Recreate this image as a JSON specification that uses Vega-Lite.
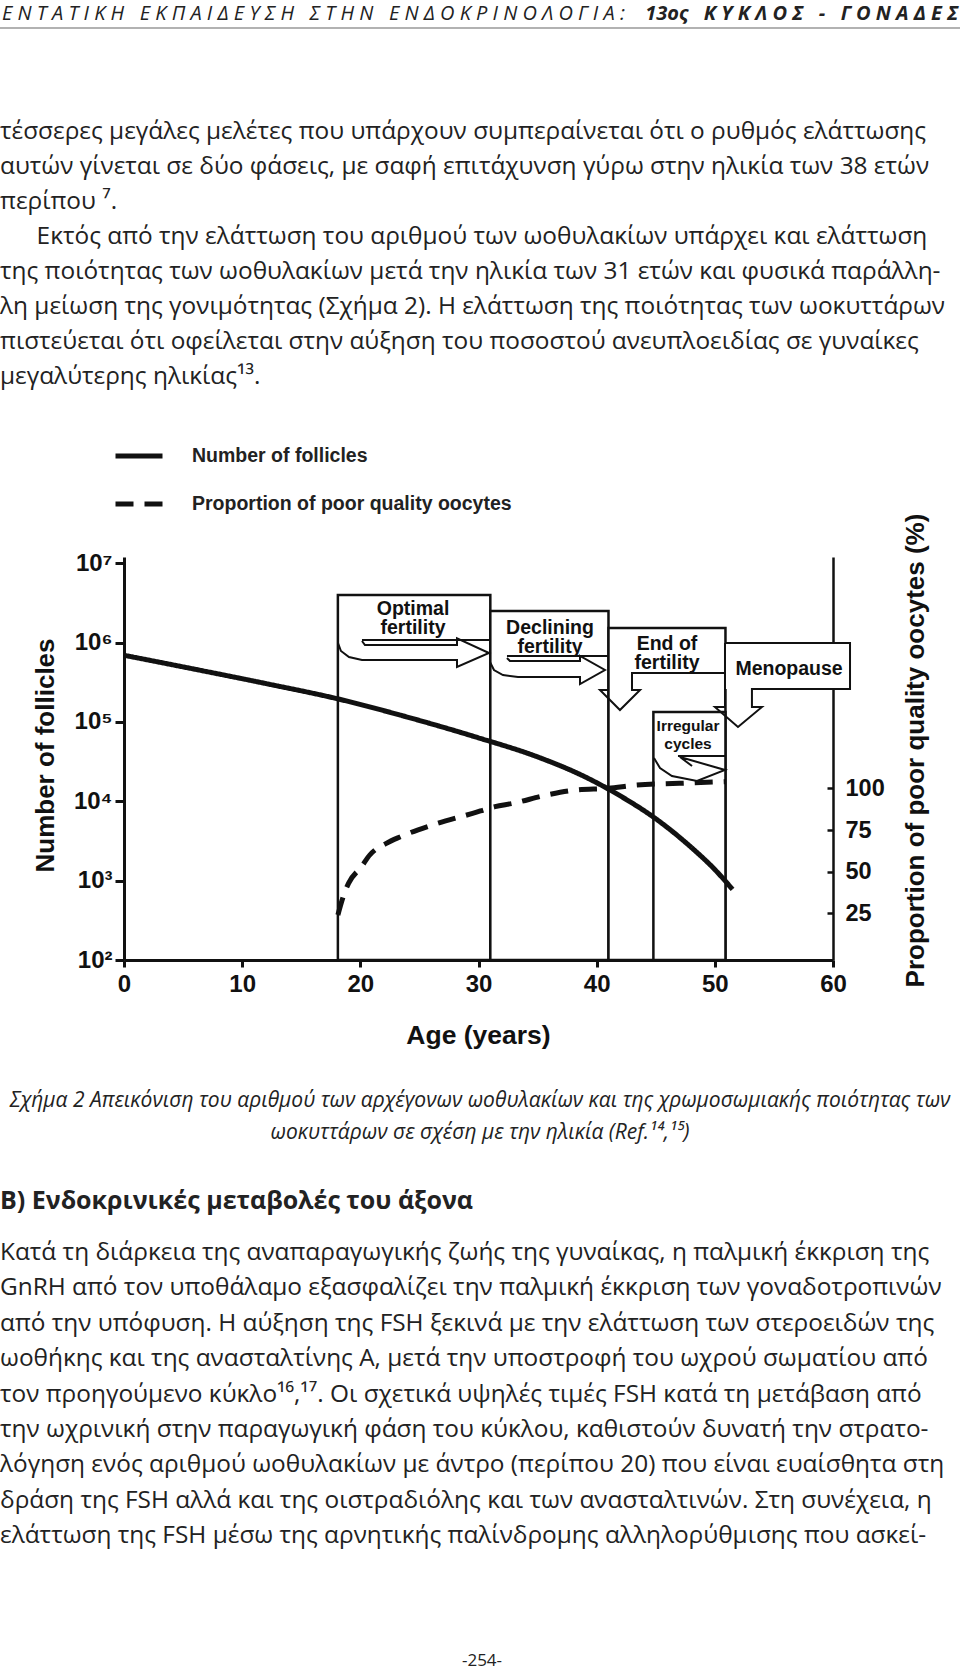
{
"$schema": "https://vega.github.io/schema/vega-lite/v6.json",
"width": 709,
"height": 403,
"autosize": {"type": "none"},
"padding": {"left": 124, "top": 557, "right": 127, "bottom": 712},
"background": "white",
"config": {"view": {"stroke": null}},
"datasets": {
  "page": [
    {"block": "hdrL", "line": 0, "text": "Ε Ν Τ Α Τ Ι Κ Η\u00a0\u00a0 Ε Κ Π Α Ι Δ Ε Υ Σ Η\u00a0\u00a0 Σ Τ Η Ν\u00a0\u00a0 Ε Ν Δ Ο Κ Ρ Ι Ν Ο Λ Ο Γ Ι Α :"},
    {"block": "hdrR", "line": 0, "text": "13ος\u00a0\u00a0 Κ Υ Κ Λ Ο Σ\u00a0\u00a0 -\u00a0\u00a0 Γ Ο Ν Α Δ Ε Σ"},
    {"block": "p1", "line": 0, "text": "τέσσερες μεγάλες μελέτες που υπάρχουν συμπεραίνεται ότι ο ρυθμός ελάττωσης"},
    {"block": "p1", "line": 1, "text": "αυτών γίνεται σε δύο φάσεις, με σαφή επιτάχυνση γύρω στην ηλικία των 38 ετών"},
    {"block": "p1", "line": 2, "text": "περίπου ⁷."},
    {"block": "p1", "line": 3, "text": "\u200b\u2002\u2002\u2002Εκτός από την ελάττωση του αριθμού των ωοθυλακίων υπάρχει και ελάττωση"},
    {"block": "p1", "line": 4, "text": "της ποιότητας των ωοθυλακίων μετά την ηλικία των 31 ετών και φυσικά παράλλη-"},
    {"block": "p1", "line": 5, "text": "λη μείωση της γονιμότητας (Σχήμα 2). Η ελάττωση της ποιότητας των ωοκυττάρων"},
    {"block": "p1", "line": 6, "text": "πιστεύεται ότι οφείλεται στην αύξηση του ποσοστού ανευπλοειδίας σε γυναίκες"},
    {"block": "p1", "line": 7, "text": "μεγαλύτερης ηλικίας¹³."},
    {"block": "cap", "line": 0, "text": "Σχήμα 2 Απεικόνιση του αριθμού των αρχέγονων ωοθυλακίων και της χρωμοσωμιακής ποιότητας των"},
    {"block": "cap", "line": 1, "text": "ωοκυττάρων σε σχέση με την ηλικία (Ref.¹⁴,¹⁵)"},
    {"block": "head", "line": 0, "text": "Β) Ενδοκρινικές μεταβολές του άξονα"},
    {"block": "p2", "line": 0, "text": "Κατά τη διάρκεια της αναπαραγωγικής ζωής της γυναίκας, η παλμική έκκριση της"},
    {"block": "p2", "line": 1, "text": "GnRH από τον υποθάλαμο εξασφαλίζει την παλμική έκκριση των γοναδοτροπινών"},
    {"block": "p2", "line": 2, "text": "από την υπόφυση. Η αύξηση της FSH ξεκινά με την ελάττωση των στεροειδών της"},
    {"block": "p2", "line": 3, "text": "ωοθήκης και της ανασταλτίνης Α, μετά την υποστροφή του ωχρού σωματίου από"},
    {"block": "p2", "line": 4, "text": "τον προηγούμενο κύκλο¹⁶,¹⁷. Οι σχετικά υψηλές τιμές FSH κατά τη μετάβαση από"},
    {"block": "p2", "line": 5, "text": "την ωχρινική στην παραγωγική φάση του κύκλου, καθιστούν δυνατή την στρατο-"},
    {"block": "p2", "line": 6, "text": "λόγηση ενός αριθμού ωοθυλακίων με άντρο (περίπου 20) που είναι ευαίσθητα στη"},
    {"block": "p2", "line": 7, "text": "δράση της FSH αλλά και της οιστραδιόλης και των ανασταλτινών. Στη συνέχεια, η"},
    {"block": "p2", "line": 8, "text": "ελάττωση της FSH μέσω της αρνητικής παλίνδρομης αλληλορύθμισης που ασκεί-"},
    {"block": "pg", "line": 0, "text": "-254-"}
  ],
  "follicles": [
    {"series": "Number of follicles", "age": 0, "count": 693000},
    {"series": "Number of follicles", "age": 6, "count": 462000},
    {"series": "Number of follicles", "age": 12, "count": 305000},
    {"series": "Number of follicles", "age": 18, "count": 197000},
    {"series": "Number of follicles", "age": 24, "count": 115000},
    {"series": "Number of follicles", "age": 30, "count": 63100},
    {"series": "Number of follicles", "age": 35, "count": 36300},
    {"series": "Number of follicles", "age": 39, "count": 20400},
    {"series": "Number of follicles", "age": 42, "count": 11700},
    {"series": "Number of follicles", "age": 45, "count": 6030},
    {"series": "Number of follicles", "age": 48, "count": 2630},
    {"series": "Number of follicles", "age": 50, "count": 1380},
    {"series": "Number of follicles", "age": 51.5, "count": 776}
  ],
  "poor": [
    {"series": "Proportion of poor quality oocytes", "age": 18.1, "pct": 24},
    {"series": "Proportion of poor quality oocytes", "age": 18.6, "pct": 36},
    {"series": "Proportion of poor quality oocytes", "age": 19.0, "pct": 43},
    {"series": "Proportion of poor quality oocytes", "age": 20.1, "pct": 53},
    {"series": "Proportion of poor quality oocytes", "age": 20.8, "pct": 60},
    {"series": "Proportion of poor quality oocytes", "age": 22.2, "pct": 67},
    {"series": "Proportion of poor quality oocytes", "age": 23.4, "pct": 71},
    {"series": "Proportion of poor quality oocytes", "age": 26.1, "pct": 78},
    {"series": "Proportion of poor quality oocytes", "age": 29.5, "pct": 85},
    {"series": "Proportion of poor quality oocytes", "age": 31.4, "pct": 89},
    {"series": "Proportion of poor quality oocytes", "age": 32.9, "pct": 91},
    {"series": "Proportion of poor quality oocytes", "age": 35.8, "pct": 96},
    {"series": "Proportion of poor quality oocytes", "age": 38.3, "pct": 99},
    {"series": "Proportion of poor quality oocytes", "age": 41, "pct": 100},
    {"series": "Proportion of poor quality oocytes", "age": 43.4, "pct": 102},
    {"series": "Proportion of poor quality oocytes", "age": 47, "pct": 103},
    {"series": "Proportion of poor quality oocytes", "age": 50.9, "pct": 104}
  ],
  "stages": [
    {"stage": "Optimal fertility", "kind": "full", "start": 18.1, "end": 31, "top": 216, "bottom": -3},
    {"stage": "Declining fertility", "kind": "full", "start": 31, "end": 41, "top": 206.4, "bottom": -3},
    {"stage": "End of fertility", "kind": "full", "start": 41, "end": 50.9, "top": 196.2, "bottom": -3},
    {"stage": "Irregular cycles", "kind": "full", "start": 44.8, "end": 50.9, "top": 145.8, "bottom": -3},
    {"stage": "Menopause", "kind": "box", "start": 50.9, "end": 61.4, "top": 187.2, "bottom": 159.6}
  ],
  "shapes": [
    {"id": "opt_top", "o": 0, "a": 20.14, "p": 189},
    {"id": "opt_top", "o": 1, "a": 30.97, "p": 189},
    {"id": "opt_arrow", "o": 0, "a": 18.11, "p": 187.2},
    {"id": "opt_arrow", "o": 1, "a": 18.36, "p": 182.4},
    {"id": "opt_arrow", "o": 2, "a": 19.04, "p": 178.8},
    {"id": "opt_arrow", "o": 3, "a": 20.14, "p": 177},
    {"id": "opt_arrow", "o": 4, "a": 28.18, "p": 177},
    {"id": "opt_arrow", "o": 5, "a": 28.18, "p": 172.8},
    {"id": "opt_arrow", "o": 6, "a": 30.89, "p": 181.2},
    {"id": "opt_arrow", "o": 7, "a": 28.18, "p": 190},
    {"id": "opt_arrow", "o": 8, "a": 28.18, "p": 186},
    {"id": "opt_arrow", "o": 9, "a": 20.39, "p": 186},
    {"id": "opt_arrow", "o": 10, "a": 20.14, "p": 188.4},
    {"id": "dec_top", "o": 0, "a": 32.41, "p": 179.4},
    {"id": "dec_top", "o": 1, "a": 40.96, "p": 179.4},
    {"id": "dec_arrow", "o": 0, "a": 30.97, "p": 175.8},
    {"id": "dec_arrow", "o": 1, "a": 31.31, "p": 171},
    {"id": "dec_arrow", "o": 2, "a": 32.07, "p": 168},
    {"id": "dec_arrow", "o": 3, "a": 33.34, "p": 166.8},
    {"id": "dec_arrow", "o": 4, "a": 38.59, "p": 166.8},
    {"id": "dec_arrow", "o": 5, "a": 38.59, "p": 162.6},
    {"id": "dec_arrow", "o": 6, "a": 40.7, "p": 171},
    {"id": "dec_arrow", "o": 7, "a": 38.59, "p": 179.4},
    {"id": "dec_arrow", "o": 8, "a": 38.59, "p": 176.4},
    {"id": "dec_arrow", "o": 9, "a": 32.66, "p": 176.4},
    {"id": "dec_arrow", "o": 10, "a": 32.41, "p": 178.2},
    {"id": "end_arrow", "o": 0, "a": 50.86, "p": 169.2},
    {"id": "end_arrow", "o": 1, "a": 42.99, "p": 169.2},
    {"id": "end_arrow", "o": 2, "a": 42.99, "p": 159},
    {"id": "end_arrow", "o": 3, "a": 43.67, "p": 159},
    {"id": "end_arrow", "o": 4, "a": 41.97, "p": 147},
    {"id": "end_arrow", "o": 5, "a": 40.28, "p": 159},
    {"id": "end_arrow", "o": 6, "a": 41.04, "p": 159},
    {"id": "meno", "o": 0, "a": 50.86, "p": 187.2},
    {"id": "meno", "o": 1, "a": 61.44, "p": 187.2},
    {"id": "meno", "o": 2, "a": 61.44, "p": 159.6},
    {"id": "meno", "o": 3, "a": 53.14, "p": 159.6},
    {"id": "meno", "o": 4, "a": 53.14, "p": 148.8},
    {"id": "meno", "o": 5, "a": 53.99, "p": 148.8},
    {"id": "meno", "o": 6, "a": 51.96, "p": 136.8},
    {"id": "meno", "o": 7, "a": 50.01, "p": 148.8},
    {"id": "meno", "o": 8, "a": 50.86, "p": 148.8},
    {"id": "meno", "o": 9, "a": 50.86, "p": 187.2},
    {"id": "irr_top", "o": 0, "a": 46.88, "p": 119.4},
    {"id": "irr_top", "o": 1, "a": 50.86, "p": 119.4},
    {"id": "irr_arrow", "o": 0, "a": 44.85, "p": 118.2},
    {"id": "irr_arrow", "o": 1, "a": 45.36, "p": 112.2},
    {"id": "irr_arrow", "o": 2, "a": 46.37, "p": 107.4},
    {"id": "irr_arrow", "o": 3, "a": 48.49, "p": 104.4},
    {"id": "irr_arrow", "o": 4, "a": 50.86, "p": 111},
    {"id": "irr_arrow", "o": 5, "a": 47.05, "p": 118.8},
    {"id": "irr_arrow", "o": 6, "a": 48.07, "p": 113.4}
  ],
  "labels": [
    {"grp": "main", "label": "Optimal\nfertility", "a": 24.46, "p": 207.6},
    {"grp": "main", "label": "Declining\nfertility", "a": 36.05, "p": 196.2},
    {"grp": "main", "label": "End of\nfertility", "a": 45.95, "p": 186.6},
    {"grp": "main", "label": "Menopause", "a": 56.28, "p": 171.6},
    {"grp": "small", "label": "Irregular\ncycles", "a": 47.73, "p": 137.4}
  ]
},
"resolve": {"scale": {"y": "independent"}},
"layer": [
  {
    "data": {"name": "page"},
    "transform": [{"filter": "datum.block == 'hdrL'"}],
    "mark": {"type": "text", "align": "left", "baseline": "middle", "font": "Open Sans", "fontStyle": "italic", "fontSize": 20, "color": "#222"},
    "encoding": {"x": {"value": -122}, "y": {"value": -543}, "text": {"field": "text"}}
  },
  {
    "data": {"name": "page"},
    "transform": [{"filter": "datum.block == 'hdrR'"}],
    "mark": {"type": "text", "align": "right", "baseline": "middle", "font": "Open Sans", "fontStyle": "italic", "fontWeight": "bold", "fontSize": 20, "color": "#222"},
    "encoding": {"x": {"value": 834}, "y": {"value": -543}, "text": {"field": "text"}}
  },
  {
    "data": {"values": [{}]},
    "mark": {"type": "rule", "color": "#999", "strokeWidth": 1.5},
    "encoding": {"x": {"value": -124}, "x2": {"value": 836}, "y": {"value": -529}}
  },
  {
    "data": {"name": "page"},
    "transform": [{"filter": "datum.block == 'p1'"}],
    "mark": {"type": "text", "align": "left", "baseline": "middle", "font": "Open Sans", "fontSize": 24.4, "color": "#222"},
    "encoding": {
      "x": {"value": -124},
      "y": {"field": "line", "type": "quantitative", "scale": {"domain": [0, 7], "range": [-425, -180], "nice": false, "zero": false}, "axis": null},
      "text": {"field": "text"}
    }
  },
  {
    "data": {"name": "page"},
    "transform": [{"filter": "datum.block == 'cap'"}],
    "mark": {"type": "text", "align": "center", "baseline": "middle", "font": "Open Sans", "fontStyle": "italic", "fontSize": 21, "color": "#222"},
    "encoding": {
      "x": {"value": 356},
      "y": {"field": "line", "type": "quantitative", "scale": {"domain": [0, 1], "range": [544, 576], "nice": false, "zero": false}, "axis": null},
      "text": {"field": "text"}
    }
  },
  {
    "data": {"name": "page"},
    "transform": [{"filter": "datum.block == 'head'"}],
    "mark": {"type": "text", "align": "left", "baseline": "middle", "font": "Open Sans", "fontWeight": "bold", "fontSize": 25, "color": "#222"},
    "encoding": {"x": {"value": -124}, "y": {"value": 644}, "text": {"field": "text"}}
  },
  {
    "data": {"name": "page"},
    "transform": [{"filter": "datum.block == 'p2'"}],
    "mark": {"type": "text", "align": "left", "baseline": "middle", "font": "Open Sans", "fontSize": 24.4, "color": "#222"},
    "encoding": {
      "x": {"value": -124},
      "y": {"field": "line", "type": "quantitative", "scale": {"domain": [0, 8], "range": [696, 979], "nice": false, "zero": false}, "axis": null},
      "text": {"field": "text"}
    }
  },
  {
    "data": {"name": "page"},
    "transform": [{"filter": "datum.block == 'pg'"}],
    "mark": {"type": "text", "align": "center", "baseline": "middle", "font": "Open Sans", "fontSize": 17, "color": "#222"},
    "encoding": {"x": {"value": 358}, "y": {"value": 1104}, "text": {"field": "text"}}
  },
  {
    "data": {"name": "stages"},
    "transform": [{"filter": "datum.kind == 'full'"}],
    "mark": {"type": "rect", "fill": "white", "stroke": "#111", "strokeWidth": 2.5},
    "encoding": {
      "x": {"field": "start", "type": "quantitative", "scale": {"domain": [0, 60], "nice": false, "zero": false}},
      "x2": {"field": "end"},
      "y": {"field": "top", "type": "quantitative", "scale": {"domain": [-3, 238.8], "nice": false, "zero": false}, "axis": null},
      "y2": {"field": "bottom"}
    }
  },
  {
    "data": {"name": "stages"},
    "transform": [{"filter": "datum.kind == 'box'"}],
    "mark": {"type": "rect", "fill": "white", "strokeWidth": 0},
    "encoding": {
      "x": {"field": "start", "type": "quantitative", "scale": {"domain": [0, 60], "nice": false, "zero": false}},
      "x2": {"field": "end"},
      "y": {"field": "top", "type": "quantitative", "scale": {"domain": [-3, 238.8], "nice": false, "zero": false}, "axis": null},
      "y2": {"field": "bottom"}
    }
  },
  {
    "data": {"name": "follicles"},
    "mark": {"type": "line", "color": "#111", "strokeWidth": 5, "interpolate": "monotone", "strokeCap": "butt"},
    "encoding": {
      "x": {"field": "age", "type": "quantitative", "scale": {"domain": [0, 60], "nice": false, "zero": false},
        "axis": {"orient": "bottom", "values": [0, 10, 20, 30, 40, 50, 60], "format": "d", "grid": false,
          "title": "Age (years)", "titleX": 354, "titleY": 75, "titleAlign": "center", "titleBaseline": "middle", "titleFont": "Liberation Sans", "titleFontSize": 26.5, "titleFontWeight": "bold", "titleColor": "#111",
          "labelFont": "Liberation Sans", "labelFontSize": 24, "labelFontWeight": "bold", "labelColor": "#111", "labelPadding": 5, "labelFlush": false, "labelOverlap": false,
          "tickSize": 7, "tickWidth": 3, "tickColor": "#111", "domainColor": "#111", "domainWidth": 3}},
      "y": {"field": "count", "type": "quantitative", "scale": {"type": "log", "domain": [100, 12000000], "nice": false},
        "axis": {"orient": "left", "values": [100, 1000, 10000, 100000, 1000000, 10000000], "grid": false,
          "labelExpr": "'10' + ['⁰','¹','²','³','⁴','⁵','⁶','⁷'][round(log(datum.value)/LN10)]",
          "title": "Number of follicles", "titleX": -79, "titleY": 198, "titleAngle": 270, "titleAlign": "center", "titleBaseline": "middle", "titleFont": "Liberation Sans", "titleFontSize": 26, "titleFontWeight": "bold", "titleColor": "#111",
          "labelFont": "Liberation Sans", "labelFontSize": 24, "labelFontWeight": "bold", "labelColor": "#111", "labelPadding": 3, "labelFlush": false, "labelOverlap": false,
          "tickSize": 9, "tickWidth": 3, "tickColor": "#111", "domainColor": "#111", "domainWidth": 3}},
      "strokeDash": {"field": "series", "type": "nominal",
        "scale": {"domain": ["Number of follicles", "Proportion of poor quality oocytes"], "range": [[1, 0], [18, 11]]},
        "legend": {"orient": "none", "legendX": -11, "legendY": -127, "title": null, "symbolType": "stroke", "symbolSize": 2209, "symbolStrokeWidth": 5, "symbolStrokeColor": "#111", "labelFont": "Liberation Sans", "labelFontWeight": "bold", "labelFontSize": 19.5, "labelColor": "#222", "labelOffset": 27, "rowPadding": 12, "labelLimit": 500}}
    }
  },
  {
    "data": {"name": "poor"},
    "mark": {"type": "line", "color": "#111", "strokeWidth": 5, "interpolate": "monotone", "strokeCap": "butt"},
    "encoding": {
      "x": {"field": "age", "type": "quantitative", "scale": {"domain": [0, 60], "nice": false, "zero": false}},
      "y": {"field": "pct", "type": "quantitative", "scale": {"domain": [-3, 238.8], "nice": false, "zero": false},
        "axis": {"orient": "right", "values": [25, 50, 75, 100], "grid": false,
          "title": "Proportion of poor quality oocytes (%)", "titleX": 82, "titleY": 193, "titleAngle": 270, "titleAlign": "center", "titleBaseline": "middle", "titleFont": "Liberation Sans", "titleFontSize": 26, "titleFontWeight": "bold", "titleColor": "#111",
          "labelFont": "Liberation Sans", "labelFontSize": 23.5, "labelFontWeight": "bold", "labelColor": "#111", "labelPadding": 18, "labelFlush": false, "labelOverlap": false,
          "tickSize": -6, "tickWidth": 2.5, "tickColor": "#111", "domainColor": "#111", "domainWidth": 2.5}},
      "strokeDash": {"field": "series", "type": "nominal",
        "scale": {"domain": ["Number of follicles", "Proportion of poor quality oocytes"], "range": [[1, 0], [18, 11]]},
        "legend": {"orient": "none", "legendX": -11, "legendY": -127, "title": null, "symbolType": "stroke", "symbolSize": 2209, "symbolStrokeWidth": 5, "symbolStrokeColor": "#111", "labelFont": "Liberation Sans", "labelFontWeight": "bold", "labelFontSize": 19.5, "labelColor": "#222", "labelOffset": 27, "rowPadding": 12, "labelLimit": 500}}
    }
  },
  {
    "data": {"name": "shapes"},
    "mark": {"type": "line", "color": "#111", "strokeWidth": 2, "strokeJoin": "miter"},
    "encoding": {
      "x": {"field": "a", "type": "quantitative", "scale": {"domain": [0, 60], "nice": false, "zero": false}},
      "y": {"field": "p", "type": "quantitative", "scale": {"domain": [-3, 238.8], "nice": false, "zero": false}, "axis": null},
      "detail": {"field": "id"},
      "order": {"field": "o", "type": "quantitative"}
    }
  },
  {
    "data": {"name": "labels"},
    "transform": [{"filter": "datum.grp == 'main'"}],
    "mark": {"type": "text", "align": "center", "baseline": "middle", "font": "Liberation Sans", "fontWeight": "bold", "fontSize": 19.5, "lineHeight": 19, "lineBreak": "\n", "color": "#111"},
    "encoding": {
      "x": {"field": "a", "type": "quantitative", "scale": {"domain": [0, 60], "nice": false, "zero": false}},
      "y": {"field": "p", "type": "quantitative", "scale": {"domain": [-3, 238.8], "nice": false, "zero": false}, "axis": null},
      "text": {"field": "label"}
    }
  },
  {
    "data": {"name": "labels"},
    "transform": [{"filter": "datum.grp == 'small'"}],
    "mark": {"type": "text", "align": "center", "baseline": "middle", "font": "Liberation Sans", "fontWeight": "bold", "fontSize": 15.5, "lineHeight": 18, "lineBreak": "\n", "color": "#111"},
    "encoding": {
      "x": {"field": "a", "type": "quantitative", "scale": {"domain": [0, 60], "nice": false, "zero": false}},
      "y": {"field": "p", "type": "quantitative", "scale": {"domain": [-3, 238.8], "nice": false, "zero": false}, "axis": null},
      "text": {"field": "label"}
    }
  }
]
}
